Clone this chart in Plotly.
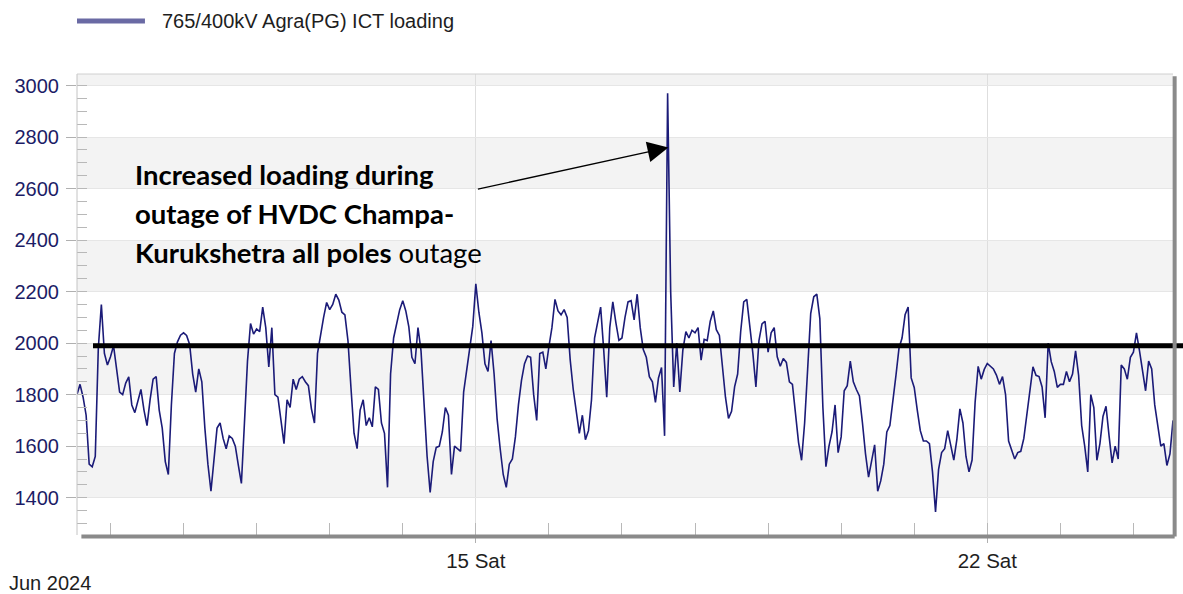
import pandas as pd
import plotly.graph_objects as go

# ---------------- data ----------------
series_name = "765/400kV Agra(PG) ICT loading"
start_time = "2024-06-09 13:00"          # first hourly sample
# hourly ICT loading (MW)
loading_mw = [
    # Jun 9 13:00 ->
    1800, 1840, 1790, 1720, 1530, 1520, 1560, 1980, 2150, 1960,
    1915, 1947, 1990, 1900, 1810, 1800, 1845, 1869, 1760, 1730,
    1770, 1820, 1740, 1680, 1780, 1860, 1870, 1740, 1670, 1540,
    1490, 1760, 1960, 2005, 2031, 2040, 2030, 1995, 1880, 1810,
    1900, 1850, 1670, 1530, 1425, 1550, 1670, 1690, 1630, 1590,
    1640, 1630, 1600, 1525, 1455, 1690, 1930, 2076, 2035, 2055,
    2045, 2140,
    2060, 1908, 2060, 1800, 1790, 1700, 1610, 1780, 1750, 1860,
    1820, 1860, 1870, 1850, 1835, 1745, 1690, 1960, 2040, 2100,
    2158, 2130, 2150, 2190, 2167, 2120, 2110, 2010, 1825, 1650,
    1590, 1740, 1780, 1680, 1710, 1675, 1830, 1820, 1690, 1650,
    1440, 1880, 2020, 2080, 2130, 2165, 2125, 2063, 1945, 1920,
    2060, 1970, 1780, 1560, 1420, 1540, 1595, 1600, 1655, 1750,
    1720,
    1490, 1600, 1590, 1580, 1810, 1895, 1965, 2065, 2230, 2120,
    2040, 1920, 1890, 2010, 1880, 1705, 1590, 1490, 1440, 1530,
    1550, 1636, 1760, 1855, 1920, 1950, 1945, 1800, 1700, 1960,
    1965, 1900, 1986, 2060, 2170, 2125, 2110, 2130, 2100, 1935,
    1820, 1740, 1650, 1720, 1625, 1660, 1780, 2020, 2080, 2140,
    1975, 1790, 2060, 2160, 2080, 2011, 2020, 2100, 2160, 2165,
    2090,
    2190, 2060, 1975, 1945, 1870, 1850, 1770, 1865, 1905, 1640,
    2970, 2200, 1830, 2000, 1810, 1973, 2045, 2020, 2050, 2040,
    2060, 1934, 2015, 2010, 2085, 2125, 2052, 2030, 1905, 1790,
    1708, 1735, 1830, 1880, 2045, 2160, 2170, 2070, 1960, 1830,
    2010, 2075, 2085, 1965, 2040, 2060, 1947, 1910, 1940, 1925,
    1850, 1840, 1714, 1615, 1545, 1690, 1900, 2115, 2180, 2190,
    2095,
    1750, 1520, 1600, 1655, 1760, 1575, 1636, 1815, 1835, 1930,
    1850, 1820, 1795, 1690, 1570, 1480, 1545, 1605, 1425, 1465,
    1530, 1655, 1680, 1770, 1875, 1980, 2020, 2110, 2140, 1865,
    1828, 1740, 1660, 1620, 1620, 1610, 1500, 1345, 1510, 1575,
    1590, 1660, 1598, 1546, 1625, 1745, 1690, 1560, 1500, 1546,
    1770, 1910, 1860, 1898, 1921, 1912, 1900, 1876, 1840, 1870,
    1800,
    1620, 1585, 1550, 1575, 1580, 1630, 1725, 1810, 1908, 1875,
    1870, 1830, 1710, 2000, 1928, 1890, 1828, 1840, 1840, 1890,
    1850, 1880, 1970, 1875, 1680, 1600, 1500, 1800, 1750, 1545,
    1610, 1715, 1755, 1640, 1535, 1600, 1550, 1915, 1900, 1860,
    1945, 1965, 2040, 1970, 1900, 1815, 1930, 1900, 1760, 1680,
    1600, 1610, 1525, 1570, 1700,
]
x_range = ["2024-06-09 13:00", "2024-06-24 13:00"]
y_range = [1255, 3045]
y_ticks = [1400, 1600, 1800, 2000, 2200, 2400, 2600, 2800, 3000]
band_ranges = [(1400, 1600), (1800, 2000), (2200, 2400), (2600, 2800), (3000, 3200)]
x_tick_vals = ["2024-06-15", "2024-06-22"]
x_tick_text = ["15 Sat", "22 Sat"]
threshold_mw = 1990
arrow_tip_time = "2024-06-17 15:15"
arrow_tip_mw = 2760
note_lines = ["<b>Increased loading during</b>",
              "<b>outage of HVDC Champa-</b>",
              "<b>Kurukshetra all poles</b> outage"]

times = pd.date_range(start_time, periods=len(loading_mw), freq="h")

# ---------------- figure ----------------
fig = go.Figure()
fig.add_trace(go.Scatter(
    x=times, y=loading_mw, mode="lines", name=series_name,
    line=dict(color="#1b1b78", width=1.6), showlegend=False,
))

shapes = []
for lo, hi in band_ranges:
    shapes.append(dict(type="rect", xref="paper", yref="y", x0=0, x1=1, y0=lo, y1=hi,
                       fillcolor="#f3f3f3", line=dict(width=0), layer="below"))
# threshold line
shapes.append(dict(type="line", xref="paper", yref="y", x0=0.0146, x1=1.02,
                   y0=threshold_mw, y1=threshold_mw, line=dict(color="black", width=5)))
# frame
shapes += [
    dict(type="line", xref="paper", yref="paper", x0=0, x1=0, y0=0, y1=1,
         line=dict(color="#c4c4c4", width=1)),
    dict(type="line", xref="paper", yref="paper", x0=0, x1=1, y0=1, y1=1,
         line=dict(color="#d0d0d0", width=1)),
    dict(type="line", xref="paper", yref="paper", x0=0.004, x1=1.0015, y0=-0.003, y1=-0.003,
         line=dict(color="#8a8a8a", width=4)),
    dict(type="line", xref="paper", yref="paper", x0=1.0015, x1=1.0015, y0=-0.003, y1=0.995,
         line=dict(color="#8a8a8a", width=4)),
]
# legend symbol
shapes.append(dict(type="line", xref="paper", yref="paper", x0=0.0, x1=0.062,
                   y0=1.115, y1=1.115, line=dict(color="#6a6aa4", width=5)))

annotations = [
    dict(xref="paper", yref="paper", x=0.076, y=1.115, xanchor="left", yanchor="middle",
         text=series_name, showarrow=False,
         font=dict(family="Liberation Sans, Arial", size=20, color="#1e1e1e")),
    dict(xref="paper", yref="paper", x=-0.064, y=-0.104, xanchor="left", yanchor="middle",
         text="Jun 2024", showarrow=False,
         font=dict(family="Liberation Sans, Arial", size=20, color="#1e1e1e")),
    dict(x=arrow_tip_time, y=arrow_tip_mw, xref="x", yref="y", text="",
         showarrow=True, arrowhead=2, arrowsize=3.2, arrowwidth=1.3, arrowcolor="black",
         ax=-192, ay=42, standoff=0),
]
for i, line in enumerate(note_lines):
    annotations.append(dict(xref="paper", yref="paper", x=0.051, y=0.781 - i * 0.0845,
                            xanchor="left", yanchor="middle", text=line, showarrow=False,
                            font=dict(family="Lato", size=27.5, color="black")))

fig.update_layout(
    width=1183, height=594,
    margin=dict(l=77, r=10, t=74, b=59),
    paper_bgcolor="white", plot_bgcolor="white",
    showlegend=False,
    shapes=shapes, annotations=annotations,
    xaxis=dict(
        type="date", range=x_range, tickvals=x_tick_vals, ticktext=x_tick_text,
        ticks="outside", ticklen=7, tickcolor="#b0b0b0",
        showgrid=True, gridcolor="#dedede", gridwidth=1,
        showline=False, zeroline=False,
        tickfont=dict(family="Liberation Sans, Arial", size=20.5, color="#1e1e1e"),
        minor=dict(ticks="inside", dtick=86400000, tick0="2024-06-10", ticklen=12,
                   tickcolor="#b8b8b8", showgrid=False),
    ),
    yaxis=dict(
        range=y_range, tickvals=y_ticks, ticks="outside", ticklen=10, tickcolor="#b0b0b0",
        showgrid=True, gridcolor="#e6e6e6", gridwidth=1,
        showline=False, zeroline=False, ticklabelstandoff=3,
        tickfont=dict(family="Liberation Sans, Arial", size=20, color="#1c1c66"),
        minor=dict(ticks="inside", dtick=50, tick0=0, ticklen=10, tickcolor="#b8b8b8",
                   showgrid=False),
    ),
)

fig.write_html("out.html", config={"displayModeBar": False},
               post_script="document.body.style.margin='0';")
